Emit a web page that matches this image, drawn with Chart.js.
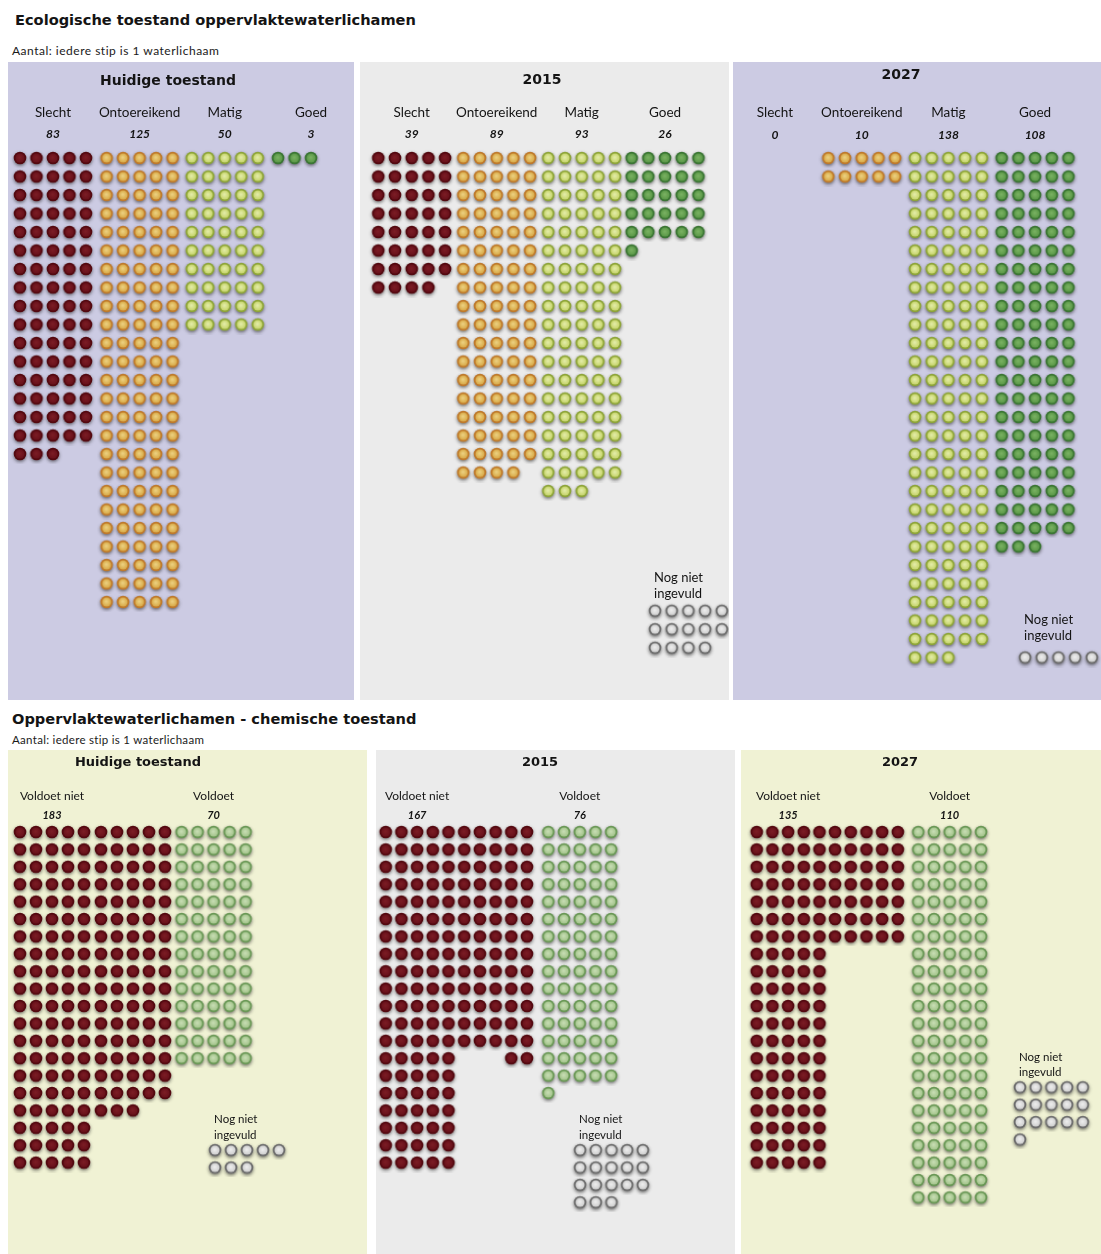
<!DOCTYPE html>
<html>
<head>
<meta charset="utf-8">
<script src="https://cdn.jsdelivr.net/npm/chart.js@4.4.0/dist/chart.umd.min.js"></script>
<style>
    body { margin: 0; background: #fff; font-family: Lato, "Open Sans", sans-serif; }
    #pagina { position: relative; width: 1101px; height: 1254px; overflow: hidden; }
    .titel { position: absolute; font-family: "DejaVu Sans", sans-serif; font-weight: bold; color: #141414; white-space: nowrap; line-height: 20px; }
    .sub { position: absolute; color: #1a1a1a; white-space: nowrap; line-height: 14px; }
    canvas { position: absolute; }
</style>
</head>
<body>
<div id="pagina">
    <div class="titel" style="left:15px; top:10px; font-size:14.6px;">Ecologische toestand oppervlaktewaterlichamen</div>
    <div class="sub" style="left:12px; top:44px; font-size:12px; letter-spacing:0.5px;">Aantal: iedere stip is 1 waterlichaam</div>
    <div class="titel" style="left:12px; top:709px; font-size:14.6px;">Oppervlaktewaterlichamen - chemische toestand</div>
    <div class="sub" style="left:12px; top:733px; font-size:11.5px; letter-spacing:0.3px;">Aantal: iedere stip is 1 waterlichaam</div>
</div>
<script>
//les données
var ecoCategorieen = ['Slecht', 'Ontoereikend', 'Matig', 'Goed'];
var ecoHuidig = [83, 125, 50, 3];
var eco2015 = [39, 89, 93, 26];
var eco2027 = [0, 10, 138, 108];
var ecoNogNiet = [0, 14, 5];
var chemCategorieen = ['Voldoet niet', 'Voldoet'];
var chemHuidig = [183, 70];
var chem2015 = [167, 76];
var chem2027 = [135, 110];
var chemNogNiet = [8, 18, 16];
var panelTitels = ['Huidige toestand', '2015', '2027'];
var nogNietLabel = ['Nog niet', 'ingevuld'];

//stippen (puntstijl als kleine canvas)
function maakStip(rand, vul, licht) {
    var c = document.createElement('canvas');
    c.width = 20; c.height = 20;
    var g = c.getContext('2d');
    g.shadowColor = 'rgba(30,30,30,0.6)';
    g.shadowBlur = 3.5;
    g.shadowOffsetY = 1.5;
    g.beginPath(); g.arc(10, 10, 6.3, 0, Math.PI * 2);
    g.fillStyle = rand; g.fill();
    g.shadowColor = 'transparent';
    var grad = g.createRadialGradient(9.6, 9.4, 0.5, 10, 10, 4.6);
    grad.addColorStop(0, licht);
    grad.addColorStop(1, vul);
    g.beginPath(); g.arc(10, 10, 4.5, 0, Math.PI * 2);
    g.fillStyle = grad; g.fill();
    return c;
}
var stip = {
    slecht: maakStip('#540910', '#68101a', '#7a1c24'),
    ontoereikend: maakStip('#bf7a2c', '#d8a947', '#ebcf7e'),
    matig: maakStip('#8ea53a', '#c6d46a', '#e2eba6'),
    goed: maakStip('#3b7634', '#5a9847', '#78b061'),
    voldoet: maakStip('#6a9856', '#a3c48b', '#c6dcb2'),
    nogniet: maakStip('#6c6c6c', '#cfcfcf', '#ececec')
};

var paars = '#cccbe3', grijs = '#ebebeb', geel = '#f0f2d4';

//mise en page des panneaux
var panelen = [
    {data: ecoHuidig, cats: ecoCategorieen, stijl: [stip.slecht, stip.ontoereikend, stip.matig, stip.goed], nog: ecoNogNiet[0], titel: panelTitels[0],
     box: [8, 62, 346, 638], bg: paars, x0: 20, dx: 16.5, y0: 158, dy: 18.5, starts: [[0], [5.25], [10.41], [15.64]],
     titelX: 168, titelY: 81, titelFont: 14, labelY: 113, countY: 134, labelFont: 13.5, countFont: 12},
    {data: eco2015, cats: ecoCategorieen, stijl: [stip.slecht, stip.ontoereikend, stip.matig, stip.goed], nog: ecoNogNiet[1], titel: panelTitels[1],
     box: [360, 62, 369, 638], bg: grijs, x0: 378.3, dx: 16.7, y0: 158, dy: 18.5, starts: [[0], [5.09], [10.18], [15.17]],
     titelX: 542, titelY: 80, titelFont: 14, labelY: 113, countY: 134, labelFont: 13.5, countFont: 12,
     nogAt: [16.57, 24.47], nogDy: [-33, -17], nogFont: 13},
    {data: eco2027, cats: ecoCategorieen, stijl: [stip.slecht, stip.ontoereikend, stip.matig, stip.goed], nog: ecoNogNiet[2], titel: panelTitels[2],
     box: [733, 62, 368, 638], bg: paars, x0: 741.5, dx: 16.7, y0: 158, dy: 18.5, starts: [[0], [5.2], [10.39], [15.58]],
     titelX: 901, titelY: 75, titelFont: 14, labelY: 113, countY: 135, labelFont: 13.5, countFont: 12,
     nogAt: [16.98, 27], nogDy: [-38, -22], nogFont: 13},
    {data: chemHuidig, cats: chemCategorieen, stijl: [stip.slecht, stip.voldoet], nog: chemNogNiet[0], titel: panelTitels[0],
     box: [8, 750, 359, 504], bg: geel, x0: 20, dx: 16, y0: 832, dy: 17.4, starts: [[0, 5.06], [10.1]],
     titelX: 138, titelY: 763, titelFont: 13, labelY: 796, countY: 815, labelFont: 12, countFont: 11,
     nogAt: [12.19, 18.28], nogDy: [-31, -15], nogFont: 11.5},
    {data: chem2015, cats: chemCategorieen, stijl: [stip.slecht, stip.voldoet], nog: chemNogNiet[1], titel: panelTitels[1],
     box: [376, 750, 359, 504], bg: grijs, x0: 385.7, dx: 15.7, y0: 832, dy: 17.4, starts: [[0, 5.0], [10.36]], rechts: true,
     titelX: 540, titelY: 763, titelFont: 13, labelY: 796, countY: 815, labelFont: 12, countFont: 11,
     nogAt: [12.38, 18.28], nogDy: [-31, -15], nogFont: 11.5},
    {data: chem2027, cats: chemCategorieen, stijl: [stip.slecht, stip.voldoet], nog: chemNogNiet[2], titel: panelTitels[2],
     box: [741, 750, 360, 504], bg: geel, x0: 756.7, dx: 15.7, y0: 832, dy: 17.4, starts: [[0, 4.99], [10.29]],
     titelX: 900, titelY: 763, titelFont: 13, labelY: 796, countY: 815, labelFont: 12, countFont: 11,
     nogAt: [16.77, 14.67], nogDy: [-30, -15], nogFont: 11.5}
];

//les fonctions
//rangées de 5, bloc par bloc (max 20 rangées sauf le dernier bloc)
function stippen(aantal, starts, rechts) {
    var pts = [];
    var rest = aantal;
    starts.forEach(function (s, bi) {
        var laatste = bi === starts.length - 1;
        var cap = laatste ? rest : Math.min(rest, 100);
        var lastRow = Math.floor((cap - 1) / 5);
        for (var i = 0; i < cap; i++) {
            var rij = Math.floor(i / 5);
            var kol = i % 5;
            if (rechts && laatste && rij === lastRow && cap % 5) kol += 5 - cap % 5;
            pts.push({x: s + kol, y: rij});
        }
        rest -= cap;
    });
    return pts;
}

function maakPlugin(p) {
    return {
        id: 'paneel',
        beforeDraw: function (chart) {
            var ctx = chart.ctx;
            ctx.save();
            ctx.fillStyle = p.bg;
            ctx.fillRect(0, 0, chart.width, chart.height);
            ctx.restore();
        },
        afterDraw: function (chart) {
            var ctx = chart.ctx, xs = chart.scales.x, ys = chart.scales.y;
            ctx.save();
            ctx.fillStyle = '#141414';
            ctx.textAlign = 'center';
            ctx.textBaseline = 'middle';
            ctx.font = 'bold ' + p.titelFont + 'px "DejaVu Sans"';
            ctx.fillText(p.titel, p.titelX - p.box[0], p.titelY - p.box[1]);
            p.cats.forEach(function (c, i) {
                var cx = xs.getPixelForValue(p.starts[i][0] + 2);
                ctx.font = p.labelFont + 'px Lato';
                ctx.fillText(c, cx, p.labelY - p.box[1]);
                ctx.font = 'italic bold ' + p.countFont + 'px Lato';
                ctx.fillText(String(p.data[i]), cx, p.countY - p.box[1]);
            });
            if (p.nog) {
                var lx = xs.getPixelForValue(p.nogAt[0]) - 1;
                var ly = ys.getPixelForValue(p.nogAt[1]);
                ctx.textAlign = 'left';
                ctx.font = p.nogFont + 'px Lato';
                ctx.fillText(nogNietLabel[0], lx, ly + p.nogDy[0]);
                ctx.fillText(nogNietLabel[1], lx, ly + p.nogDy[1]);
            }
            ctx.restore();
        }
    };
}

function tekenPaneel(p) {
    var cv = document.createElement('canvas');
    cv.width = p.box[2];
    cv.height = p.box[3];
    cv.style.left = p.box[0] + 'px';
    cv.style.top = p.box[1] + 'px';
    cv.style.width = p.box[2] + 'px';
    cv.style.height = p.box[3] + 'px';
    document.getElementById('pagina').appendChild(cv);

    var datasets = p.cats.map(function (c, i) {
        return {
            label: c,
            data: stippen(p.data[i], p.starts[i], p.rechts && i === 0),
            pointStyle: p.stijl[i],
            pointRadius: 6,
            clip: false
        };
    });
    if (p.nog) {
        datasets.push({
            label: nogNietLabel.join(' '),
            data: stippen(p.nog, [p.nogAt[0]], false).map(function (pt) { return {x: pt.x, y: pt.y + p.nogAt[1]}; }),
            pointStyle: stip.nogniet,
            pointRadius: 6,
            clip: false
        });
    }

    new Chart(cv, {
        type: 'scatter',
        data: {datasets: datasets},
        options: {
            responsive: false,
            animation: false,
            events: [],
            layout: {padding: 0, autoPadding: false},
            plugins: {legend: {display: false}, tooltip: {enabled: false}},
            scales: {
                x: {type: 'linear', display: false, bounds: 'data',
                    min: (p.box[0] - p.x0) / p.dx, max: (p.box[0] + p.box[2] - p.x0) / p.dx},
                y: {type: 'linear', display: false, bounds: 'data', reverse: true,
                    min: (p.box[1] - p.y0) / p.dy, max: (p.box[1] + p.box[3] - p.y0) / p.dy}
            }
        },
        plugins: [maakPlugin(p)]
    });
}

panelen.forEach(tekenPaneel);
</script>
</body>
</html>
